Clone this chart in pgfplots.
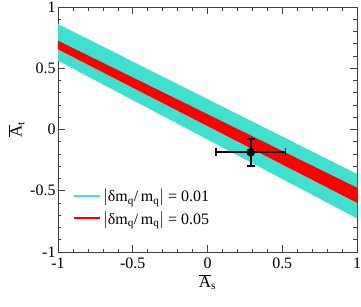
\documentclass[border=0pt]{standalone}
\usepackage{fontspec}
\setmainfont{Liberation Serif}
\usepackage{pgfplots}
\pgfplotsset{compat=1.18}
\definecolor{turq}{RGB}{64,224,208}
\newcommand{\tfont}{\fontsize{16}{18}\selectfont}
\begin{document}
\begin{tikzpicture}
\begin{axis}[
    scale only axis,
    width=299bp, height=245bp,
    xmin=-1, xmax=1, ymin=-1, ymax=1,
    xtick={-1,-0.5,0,0.5,1}, ytick={-1,-0.5,0,0.5,1},
    minor tick num=4,
    tick align=inside,
    major tick length=7bp, minor tick length=3.5bp,
    tick style={black!75, line width=0.6pt},
    axis line style={black!75, line width=0.8pt},
    /pgf/number format/assume math mode=true,
    xticklabel={\tfont\pgfmathprintnumber{\tick}},
    yticklabel={\tfont\pgfmathprintnumber{\tick}},
    xticklabel style={yshift=-2bp},
    yticklabel style={xshift=1bp},
    xlabel={\fontsize{17}{18}\selectfont $\overline{\mbox{A}}_{\mbox{\fontsize{11.5}{12}\selectfont s}}$},
    ylabel={\fontsize{17}{18}\selectfont $\overline{\mbox{A}}_{\mbox{\fontsize{11.5}{12}\selectfont t}}$},
    xlabel style={yshift=1bp},
    ylabel style={yshift=-1bp},
    legend style={draw=none, fill=none, at={(0.04,0.275)}, anchor=north west,
        font=\fontsize{16}{18}\selectfont, row sep=4bp},
    legend image code/.code={\draw[#1] (0bp,0bp) -- (26bp,0bp);},
    legend cell align=left,
]
\addplot[fill=turq, draw=none, forget plot] coordinates {(-1,0.861) (1,-0.363) (1,-0.725) (-1,0.562)} -- cycle;
\addplot[fill=red, draw=none, forget plot] coordinates {(-1,0.725) (1,-0.475) (1,-0.598) (-1,0.655)} -- cycle;
\addplot[black, line width=1.6pt, mark=*, mark size=3.5pt, only marks, forget plot,
    error bars/.cd, x dir=both, y dir=both, x explicit, y explicit,
    error bar style={line width=1.6pt},
    error mark options={rotate=90, mark size=4bp, line width=1.6pt}]
    coordinates {(0.289,-0.186) +- (0.233,0.110)};
\addlegendimage{turq, line width=2pt}
\addlegendentry{$|$δm\textsubscript{q}/\,m\textsubscript{q}$|$ = 0.01}
\addlegendimage{red, line width=2pt}
\addlegendentry{$|$δm\textsubscript{q}/\,m\textsubscript{q}$|$ = 0.05}
\end{axis}
\pgfresetboundingbox
\path ([shift={(-58bp,-55bp)}]current axis.south west) rectangle ([shift={(4bp,7bp)}]current axis.north east);
\end{tikzpicture}
\end{document}
